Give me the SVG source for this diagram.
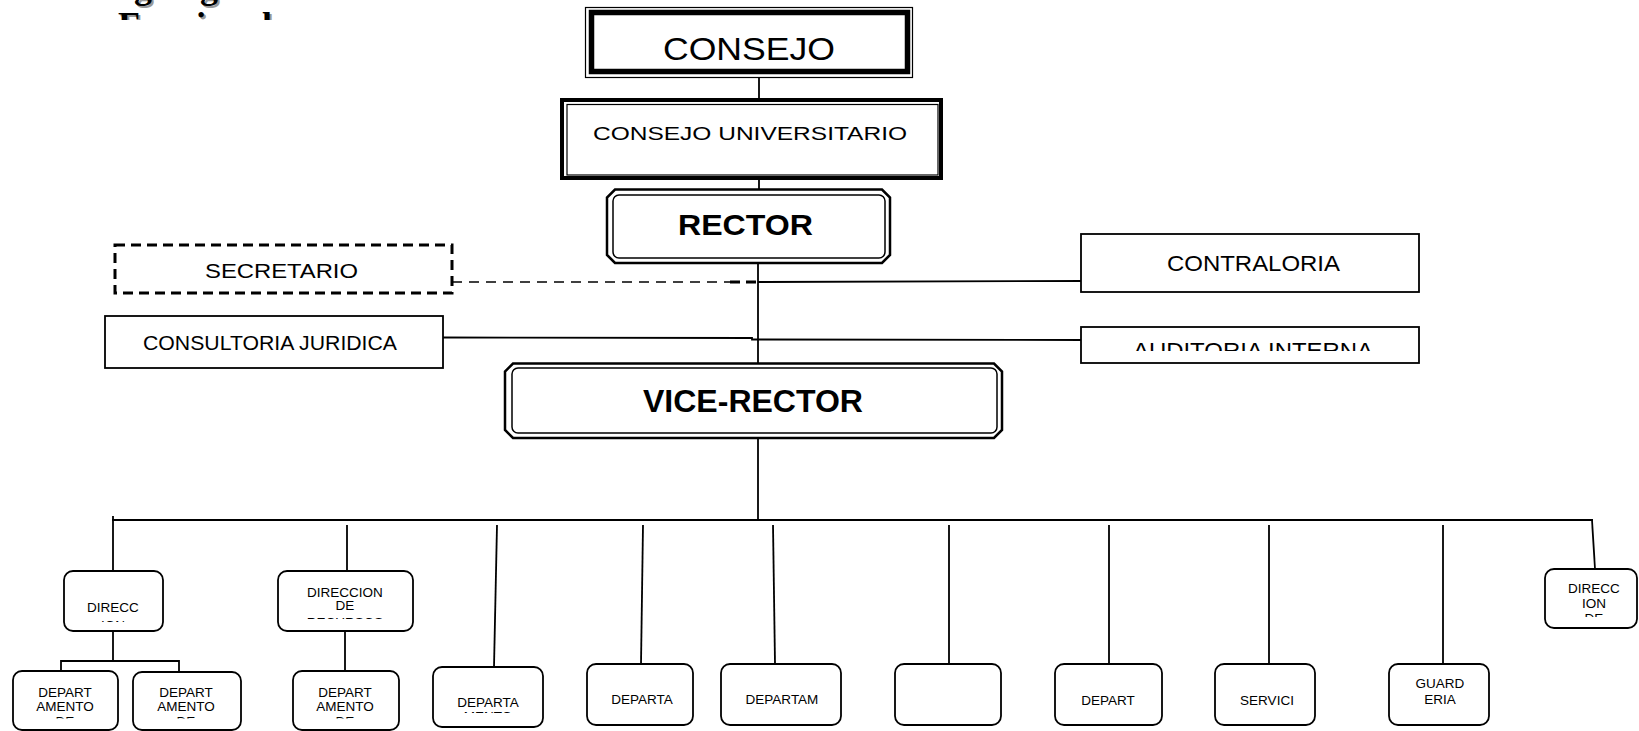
<svg xmlns="http://www.w3.org/2000/svg" width="1639" height="731" viewBox="0 0 1639 731">
<style>
.ln{stroke:#000;stroke-width:1.8;fill:none}
.box{fill:#fff;stroke:#000;stroke-width:1.8}
.rb{fill:#fff;stroke:#000;stroke-width:1.8}
.t{font-family:"Liberation Sans",Arial,sans-serif;fill:#000}
.s{font-family:"Liberation Sans",Arial,sans-serif;font-size:13.5px;fill:#000;text-anchor:middle}
.b{font-weight:bold}
.ttl{font-family:"Liberation Serif","Times New Roman",serif;font-weight:bold;font-size:36px;text-anchor:middle}
</style>
<defs>
<clipPath id="cTitle"><rect x="0" y="0" width="500" height="20"/></clipPath>
<clipPath id="cAud"><rect x="1082" y="328" width="336" height="23"/></clipPath>
<clipPath id="c1"><rect x="64" y="571" width="99" height="51"/></clipPath>
<clipPath id="c2"><rect x="13" y="671" width="105" height="47.5"/></clipPath>
<clipPath id="c3"><rect x="133" y="672" width="108" height="46.5"/></clipPath>
<clipPath id="c4"><rect x="278" y="571" width="135" height="48"/></clipPath>
<clipPath id="c5"><rect x="293" y="671" width="106" height="47.5"/></clipPath>
<clipPath id="c6"><rect x="433" y="667" width="110" height="46"/></clipPath>
<clipPath id="c13"><rect x="1545" y="569" width="92" height="48"/></clipPath>
</defs>
<rect width="1639" height="731" fill="#fff"/>

<g id="title" clip-path="url(#cTitle)">
<text class="ttl" x="197" y="0" fill="#999">Organigrama</text>
<text class="ttl" x="197" y="39" fill="#999">Funcional</text>
<text class="ttl" x="195" y="-2" fill="#000">Organigrama</text>
<text class="ttl" x="195" y="37" fill="#000">Funcional</text>
</g>

<g id="connectors">
<line class="ln" x1="759" y1="77" x2="759" y2="98"/>
<line class="ln" x1="759" y1="180" x2="759" y2="189"/>
<line class="ln" x1="758" y1="263" x2="758" y2="363"/>
<line x1="452" y1="282" x2="730" y2="282" stroke="#000" stroke-width="1.5" stroke-dasharray="10 7"/>
<line x1="730" y1="282" x2="758" y2="282" stroke="#000" stroke-width="3" stroke-dasharray="10 6"/>
<line class="ln" x1="758" y1="282" x2="1081" y2="281"/>
<polyline class="ln" points="443,337.5 752,338 752,339.5 758,339.5"/>
<line class="ln" x1="758" y1="339.5" x2="1081" y2="340"/>
<line class="ln" x1="758" y1="438" x2="758" y2="520"/>
<line class="ln" x1="112" y1="520" x2="1593" y2="520"/>
<line class="ln" x1="113" y1="516" x2="113" y2="571"/>
<line class="ln" x1="113" y1="631" x2="113" y2="661"/>
<polyline class="ln" points="61,671 61,661 179,661 179,672"/>
<line class="ln" x1="347" y1="525" x2="347" y2="571"/>
<line class="ln" x1="345" y1="631" x2="345" y2="671"/>
<line class="ln" x1="497" y1="525" x2="494" y2="667"/>
<line class="ln" x1="643" y1="525" x2="641" y2="664"/>
<line class="ln" x1="773" y1="525" x2="775" y2="664"/>
<line class="ln" x1="949" y1="525" x2="949" y2="664"/>
<line class="ln" x1="1109" y1="525" x2="1109" y2="664"/>
<line class="ln" x1="1269" y1="525" x2="1269" y2="664"/>
<line class="ln" x1="1443" y1="525" x2="1443" y2="664"/>
<line class="ln" x1="1592" y1="520" x2="1595" y2="569"/>
</g>

<g id="consejo">
<rect x="585.5" y="7.5" width="327" height="70" fill="#fff" stroke="#000" stroke-width="1.2"/>
<rect x="591.5" y="12.5" width="316" height="59" fill="none" stroke="#000" stroke-width="5.5"/>
<text class="t" x="663" y="60" font-size="32" textLength="172" lengthAdjust="spacingAndGlyphs">CONSEJO</text>
</g>

<g id="consejo-universitario">
<rect x="562" y="100" width="379" height="78" fill="#fff" stroke="#000" stroke-width="4"/>
<rect x="567" y="104.5" width="371" height="70.5" fill="none" stroke="#000" stroke-width="1.2"/>
<text class="t" x="593" y="140" font-size="19" textLength="314" lengthAdjust="spacingAndGlyphs">CONSEJO UNIVERSITARIO</text>
</g>

<g id="rector">
<path d="M615,189.5 H882 L890,197.5 V255 L882,263 H615 L607,255 V197.5 Z" fill="#fff" stroke="#000" stroke-width="2.5"/>
<rect x="613" y="195" width="272" height="63" rx="6" fill="none" stroke="#000" stroke-width="1.5"/>
<text class="t b" x="678" y="235" font-size="30" textLength="135" lengthAdjust="spacingAndGlyphs">RECTOR</text>
</g>

<g id="secretario">
<rect x="115" y="245" width="337" height="48" fill="#fff" stroke="#000" stroke-width="3" stroke-dasharray="10 6"/>
<text class="t" x="205" y="278" font-size="21" textLength="153" lengthAdjust="spacingAndGlyphs">SECRETARIO</text>
</g>

<g id="contraloria">
<rect class="box" x="1081" y="234" width="338" height="58"/>
<text class="t" x="1167" y="271" font-size="22" textLength="173" lengthAdjust="spacingAndGlyphs">CONTRALORIA</text>
</g>

<g id="consultoria-juridica">
<rect class="box" x="105" y="316" width="338" height="52"/>
<text class="t" x="143" y="350" font-size="21" textLength="254" lengthAdjust="spacingAndGlyphs">CONSULTORIA JURIDICA</text>
</g>

<g id="auditoria-interna">
<rect class="box" x="1081" y="327" width="338" height="36"/>
<text class="t" x="1133" y="358" font-size="22" textLength="240" lengthAdjust="spacingAndGlyphs" clip-path="url(#cAud)">AUDITORIA INTERNA</text>
</g>

<g id="vice-rector">
<path d="M513,363.5 H994 L1002,371.5 V430 L994,438 H513 L505,430 V371.5 Z" fill="#fff" stroke="#000" stroke-width="2.5"/>
<rect x="512" y="368" width="485" height="65" rx="6" fill="none" stroke="#000" stroke-width="1.5"/>
<text class="t b" x="643" y="412" font-size="31" textLength="220" lengthAdjust="spacingAndGlyphs">VICE-RECTOR</text>
</g>

<g id="n-direccion-1">
<rect class="rb" x="64" y="571" width="99" height="60" rx="9"/>
<g clip-path="url(#c1)"><text class="s" x="113" y="612">DIRECC</text><text class="s" x="113" y="630">ION</text></g>
</g>
<g id="n-depto-1">
<rect class="rb" x="13" y="671" width="105" height="59" rx="9"/>
<g clip-path="url(#c2)"><text class="s" x="65" y="697">DEPART</text><text class="s" x="65" y="711">AMENTO</text><text class="s" x="65" y="726">DE</text></g>
</g>
<g id="n-depto-2">
<rect class="rb" x="133" y="672" width="108" height="58" rx="9"/>
<g clip-path="url(#c3)"><text class="s" x="186" y="697">DEPART</text><text class="s" x="186" y="711">AMENTO</text><text class="s" x="186" y="726">DE</text></g>
</g>
<g id="n-direccion-recursos">
<rect class="rb" x="278" y="571" width="135" height="60" rx="9"/>
<g clip-path="url(#c4)"><text class="s" x="345" y="597">DIRECCION</text><text class="s" x="345" y="610">DE</text><text class="s" x="345" y="627">RECURSOS</text></g>
</g>
<g id="n-depto-3">
<rect class="rb" x="293" y="671" width="106" height="59" rx="9"/>
<g clip-path="url(#c5)"><text class="s" x="345" y="697">DEPART</text><text class="s" x="345" y="711">AMENTO</text><text class="s" x="345" y="726">DE</text></g>
</g>
<g id="n-depto-4">
<rect class="rb" x="433" y="667" width="110" height="60" rx="9"/>
<g clip-path="url(#c6)"><text class="s" x="488" y="707">DEPARTA</text><text class="s" x="488" y="720.5">MENTO</text></g>
</g>
<g id="n-depto-5">
<rect class="rb" x="587" y="664" width="106" height="61" rx="9"/>
<text class="s" x="642" y="704">DEPARTA</text>
</g>
<g id="n-depto-6">
<rect class="rb" x="721" y="664" width="120" height="61" rx="9"/>
<text class="s" x="782" y="704">DEPARTAM</text>
</g>
<g id="n-empty">
<rect class="rb" x="895" y="664" width="106" height="61" rx="9"/>
</g>
<g id="n-depto-7">
<rect class="rb" x="1055" y="664" width="107" height="61" rx="9"/>
<text class="s" x="1108" y="705">DEPART</text>
</g>
<g id="n-servicio">
<rect class="rb" x="1215" y="664" width="100" height="61" rx="9"/>
<text class="s" x="1267" y="705">SERVICI</text>
</g>
<g id="n-guarderia">
<rect class="rb" x="1389" y="664" width="100" height="61" rx="9"/>
<text class="s" x="1440" y="688">GUARD</text><text class="s" x="1440" y="704">ERIA</text>
</g>
<g id="n-direccion-2">
<rect class="rb" x="1545" y="569" width="92" height="59" rx="9"/>
<g clip-path="url(#c13)"><text class="s" x="1594" y="593">DIRECC</text><text class="s" x="1594" y="608">ION</text><text class="s" x="1594" y="623">DE</text></g>
</g>
</svg>
